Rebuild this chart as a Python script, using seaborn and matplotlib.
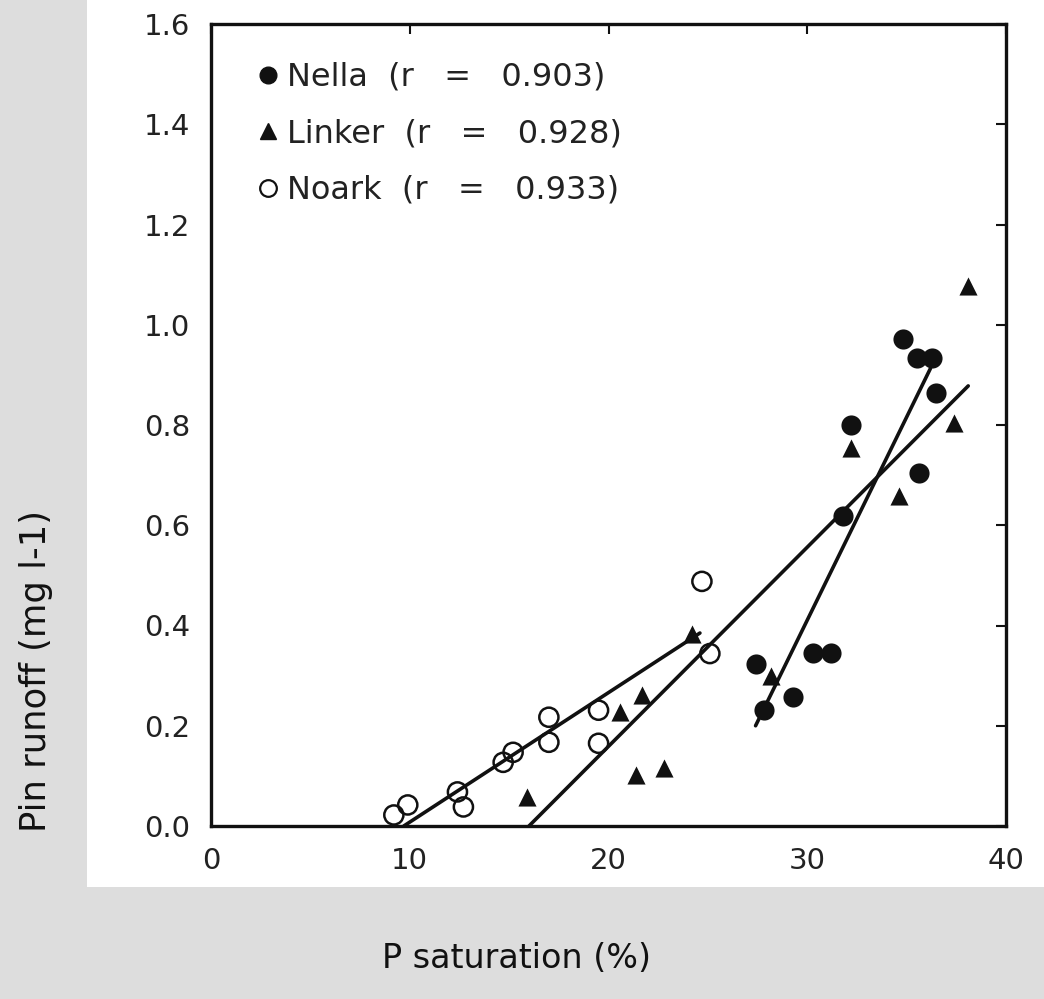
import matplotlib
matplotlib.use('Agg')
import matplotlib.pyplot as plt
from matplotlib.lines import Line2D
from matplotlib.patches import Rectangle
import pandas as pd
import seaborn as sns

# Nella soil (filled circles)
nella_x = [27.4, 27.8, 29.3, 30.3, 31.2, 31.8, 32.2, 34.8, 35.5, 36.3, 36.5, 35.6]
nella_y = [0.324, 0.231, 0.257, 0.346, 0.346, 0.619, 0.800, 0.971, 0.933, 0.933, 0.864, 0.704]

# Linker soil (filled triangles)
linker_x = [15.9, 20.6, 21.7, 21.4, 22.8, 24.2, 28.2, 32.2, 34.6, 37.4, 38.1]
linker_y = [0.058, 0.227, 0.261, 0.101, 0.115, 0.384, 0.300, 0.754, 0.659, 0.804, 1.077]

# Noark soil (open circles)
noark_x = [9.2, 9.9, 12.4, 12.7, 14.7, 15.2, 17.0, 17.0, 19.5, 19.5, 24.7, 25.1]
noark_y = [0.022, 0.042, 0.068, 0.038, 0.127, 0.147, 0.217, 0.167, 0.231, 0.165, 0.488, 0.344]

# fitted lines, end points
nella_fit_x = [27.4, 36.2]
nella_fit_y = [0.20, 0.913]
linker_fit_x = [16.0, 38.1]
linker_fit_y = [0.0, 0.878]
noark_fit_x = [9.7, 24.6]
noark_fit_y = [0.0, 0.385]

legend_labels = ['Nella  (r   =   0.903)', 'Linker  (r   =   0.928)', 'Noark  (r   =   0.933)']

sns.set_theme(style='white')
plt.rcParams['font.family'] = ['DejaVu Sans']

fig = plt.figure(figsize=(10.44, 9.99), dpi=100)
fig.patch.set_facecolor('#dddddd')
# white area of the scanned figure
fig.patches.append(Rectangle((87 / 1044, 1 - 887 / 999), 957 / 1044, 887 / 999,
                             transform=fig.transFigure, facecolor='white',
                             edgecolor='none', zorder=-5))

ax = fig.add_axes([211 / 1044, 1 - 826 / 999, 795 / 1044, 802 / 999])
ax.set_zorder(1)
ax.set_facecolor('white')

ink = '#111111'
for fx, fy in [(nella_fit_x, nella_fit_y), (linker_fit_x, linker_fit_y), (noark_fit_x, noark_fit_y)]:
    sns.lineplot(x=fx, y=fy, ax=ax, color=ink, linewidth=2.6, zorder=2)

sns.scatterplot(x=nella_x, y=nella_y, ax=ax, marker='o', s=210, color=ink,
                edgecolor=ink, linewidth=0, zorder=3)
sns.scatterplot(x=linker_x, y=linker_y, ax=ax, marker='^', s=170, color=ink,
                edgecolor=ink, linewidth=0, zorder=3)
sns.scatterplot(x=noark_x, y=noark_y, ax=ax, marker='o', s=190, facecolor='none',
                edgecolor=ink, linewidth=1.8, zorder=3)

ax.set_xlim(0, 40)
ax.set_ylim(0, 1.6)
ax.set_xticks([0, 10, 20, 30, 40])
ax.set_yticks([0.0, 0.2, 0.4, 0.6, 0.8, 1.0, 1.2, 1.4, 1.6])
ax.set_yticklabels(['%.1f' % v for v in ax.get_yticks()])
ax.tick_params(direction='in', length=7, width=1.5, top=True, right=True,
               labelsize=21, labelcolor='#222222', pad=15, color=ink)
for sp in ax.spines.values():
    sp.set_linewidth(2.4)
    sp.set_color(ink)
ax.set_xlabel('')
ax.set_ylabel('')

handles = [
    Line2D([], [], marker='o', linestyle='none', color=ink, markersize=12),
    Line2D([], [], marker='^', linestyle='none', color=ink, markersize=11),
    Line2D([], [], marker='o', linestyle='none', markerfacecolor='none',
           markeredgecolor=ink, markeredgewidth=1.6, markersize=12),
]
ax.legend(handles, legend_labels, loc='upper left', bbox_to_anchor=(0.055, 0.953),
          frameon=False, fontsize=23, handlelength=0.8, handletextpad=0.2,
          labelspacing=0.8, borderpad=0, borderaxespad=0, labelcolor='#222222')

fig.text(36 / 1044, 1 - 671 / 999, 'Pin runoff (mg l-1)', rotation=90,
         ha='center', va='center', fontsize=25.5, color='#111111')
fig.text(517 / 1044, 1 - 958 / 999, 'P saturation (%)', ha='center',
         va='center', fontsize=24, color='#111111')

fig.savefig('out.png', dpi=100, facecolor=fig.get_facecolor())
